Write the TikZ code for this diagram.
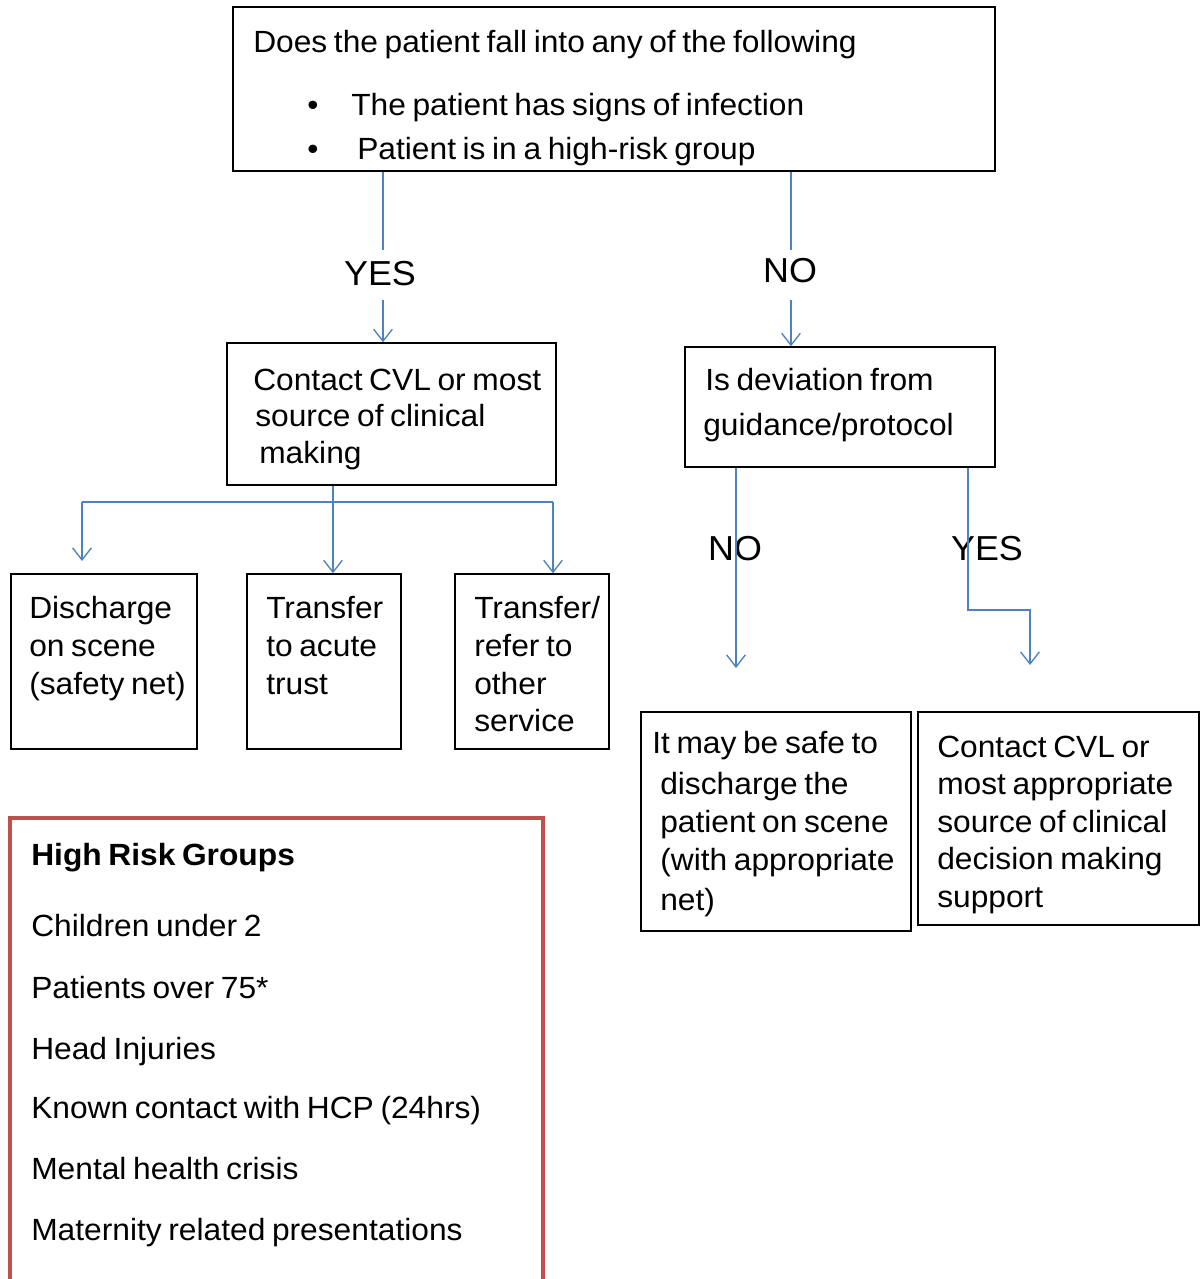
\documentclass[tikz,border=0pt]{standalone}
\usepackage{fontspec}
\setmainfont{Liberation Sans}[FakeStretch=1.035,WordSpace=0.75]
\usetikzlibrary{arrows.meta,fit}
\definecolor{flowblue}{HTML}{4F81BD}
\definecolor{riskred}{HTML}{C0504D}
\begin{document}
\begin{tikzpicture}[x=0.75pt,y=-0.75pt,
  box/.style={draw=black,line width=1.1pt,inner sep=0pt},
  riskbox/.style={draw=riskred,line width=2.6pt,inner sep=0pt},
  txt/.style={inner sep=0pt,anchor=base west,font=\fontsize{23}{28}\selectfont},
  lbl/.style={inner sep=0pt,anchor=base,font=\fontsize{26}{30}\selectfont},
  conn/.style={draw=flowblue,line width=1pt},
  arr/.style={conn,-{Straight Barb[length=9pt,width=14pt,line width=1pt]}}]
\useasboundingbox (0,0) rectangle (1200,1279);
\fill[white] (0,0) rectangle (1200,1279);

% boxes
\node[box,fit={(233,7) (995,171)}] (top) {};
\node[box,fit={(227,343) (556,485)}] (boxA) {};
\node[box,fit={(685,347) (995,467)}] (boxB) {};
\node[box,fit={(11,574) (197,749)}] (c1) {};
\node[box,fit={(247,574) (401,749)}] (c2) {};
\node[box,fit={(455,574) (609,749)}] (c3) {};
\node[box,fit={(641,712) (911,931)}] (d) {};
\node[box,fit={(918,712) (1199,925)}] (e) {};
\node[riskbox,fit={(10,818) (543,1290)}] (risk) {};

% top box text
\node[txt] (t1) at (253,52) {Does the patient fall into any of the following};
\node[txt] (b1) at (307,115) {•};
\node[txt] (t2) at (351,115) {The patient has signs of infection};
\node[txt] (b2) at (307,159) {•};
\node[txt] (t3) at (357,159) {Patient is in a high-risk group};

% box A
\node[txt] (a1) at (253,390) {Contact CVL or most};
\node[txt] (a2) at (255,426) {source of clinical};
\node[txt] (a3) at (259,463) {making};

% box B
\node[txt] (bb1) at (705,390) {Is deviation from};
\node[txt] (bb2) at (703,435) {guidance/protocol};

% C boxes
\node[txt] (c1a) at (29,618) {Discharge};
\node[txt] (c1b) at (29,656) {on scene};
\node[txt] (c1c) at (29,694) {(safety net)};
\node[txt] (c2a) at (266,618) {Transfer};
\node[txt] (c2b) at (266,656) {to acute};
\node[txt] (c2c) at (266,694) {trust};
\node[txt] (c3a) at (474,618) {Transfer/};
\node[txt] (c3b) at (474,656) {refer to};
\node[txt] (c3c) at (474,694) {other};
\node[txt] (c3d) at (474,731) {service};

% D box
\node[txt] (d1) at (652,753) {It may be safe to};
\node[txt] (d2) at (660,794) {discharge the};
\node[txt] (d3) at (660,832) {patient on scene};
\node[txt] (d4) at (660,870) {(with appropriate};
\node[txt] (d5) at (660,910) {net)};

% E box
\node[txt] (e1) at (937,757) {Contact CVL or};
\node[txt] (e2) at (937,794) {most appropriate};
\node[txt] (e3) at (937,832) {source of clinical};
\node[txt] (e4) at (937,869) {decision making};
\node[txt] (e5) at (937,907) {support};

% risk box text
\node[txt,font=\fontsize{23}{28}\selectfont\bfseries] (r0) at (31,865) {High Risk Groups};
\node[txt] (r1) at (31,936) {Children under 2};
\node[txt] (r2) at (31,998) {Patients over 75*};
\node[txt] (r3) at (31,1059) {Head Injuries};
\node[txt] (r4) at (31,1118) {Known contact with HCP (24hrs)};
\node[txt] (r5) at (31,1179) {Mental health crisis};
\node[txt] (r6) at (31,1240) {Maternity related presentations};

% helper coordinates
\coordinate (xyes) at (383,0);
\coordinate (xno) at (791,0);
\coordinate (xmid) at (333,0);
\coordinate (xleft) at (82,0);
\coordinate (xright) at (553,0);
\coordinate (xno2) at (736,0);
\coordinate (xyes2) at (968,0);
\coordinate (ybar) at (0,502);
\coordinate (gap1a) at (383,250);
\coordinate (gap1b) at (383,300);
\coordinate (gap2a) at (791,250);
\coordinate (gap2b) at (791,300);
\coordinate (leftend) at (82,561);
\coordinate (noend) at (736,668);
\coordinate (yesbend) at (968,610);
\coordinate (yesbend2) at (1030,610);
\coordinate (yesend) at (1030,665);

% connectors from top
\draw[conn] (top.south -| xyes) -- (gap1a);
\draw[arr] (gap1b) -- (boxA.north -| xyes);
\draw[conn] (top.south -| xno) -- (gap2a);
\draw[arr] (gap2b) -- (boxB.north -| xno);
\node[lbl] (yes1) at (380,285) {YES};
\node[lbl] (no1) at (790,282) {NO};

% from box A
\draw[conn] (ybar -| xleft) -- (ybar -| xright);
\draw[arr] (boxA.south -| xmid) -- (c2.north -| xmid);
\draw[arr] (ybar -| xleft) -- (leftend);
\draw[arr] (ybar -| xright) -- (c3.north -| xright);

% from box B
\node[lbl] (no2) at (735,560) {NO};
\node[lbl] (yes2) at (987,560) {YES};
\draw[arr] (boxB.south -| xno2) -- (noend);
\draw[arr] (boxB.south -| xyes2) -- (yesbend) -- (yesbend2) -- (yesend);
\end{tikzpicture}
\end{document}
